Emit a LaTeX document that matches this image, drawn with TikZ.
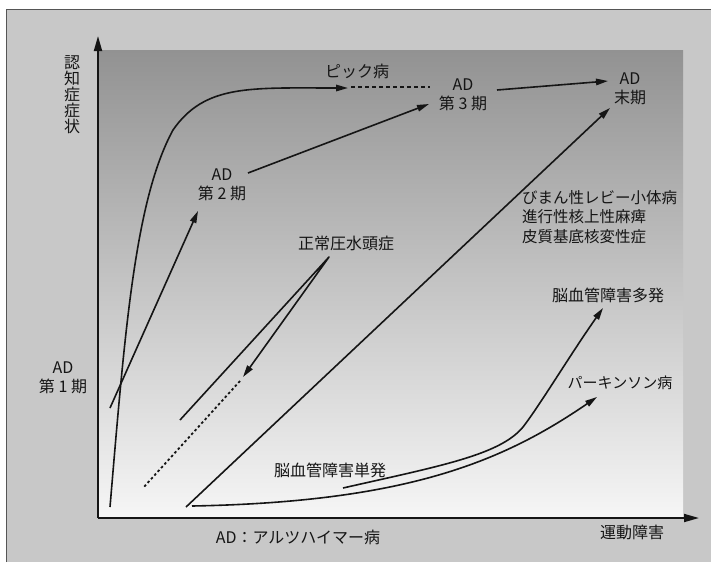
\documentclass[tikz,border=0pt]{standalone}
\usepackage{fontspec}
\setmainfont{Noto Sans CJK JP}
\usetikzlibrary{arrows.meta}
\definecolor{outerbg}{HTML}{C8C8C8}
\definecolor{framecol}{HTML}{555555}
\definecolor{ink}{HTML}{151515}
\definecolor{shtop}{HTML}{929292}
\definecolor{shmid}{HTML}{BBBBBB}
\definecolor{shbot}{HTML}{F6F6F6}
\tikzset{
  lbl/.style={inner sep=0pt, text=ink, font=\fontsize{16}{19}\selectfont, align=center},
  conn/.style={draw=ink, line width=1.6pt, line join=round, -{Triangle[length=12pt,width=6.5pt]}},
  plain/.style={draw=ink, line width=1.6pt, line join=round},
  axis/.style={draw=ink, line width=1.8pt, -{Triangle[length=15pt,width=8pt]}},
  dashedline/.style={draw=ink, line width=1.4pt, dash pattern=on 4pt off 3pt},
  dottedline/.style={draw=ink, line width=1.8pt, dash pattern=on 2.5pt off 2.5pt}
}
\begin{document}
\begin{tikzpicture}[x=1pt,y=-1pt]
\useasboundingbox (0,0) rectangle (711,562);
\fill[white] (0,0) rectangle (711,562);
\fill[outerbg] (6,9) rectangle (711,562);
\draw[framecol, line width=1pt] (6,562) -- (6,9) -- (711,9);
\shade[top color=shtop, middle color=shmid, bottom color=shbot] (98,50) rectangle (683,518);

% axes
\coordinate (O) at (98,518);
\coordinate (ytip) at (98,36);
\coordinate (xtip) at (699,518);
\draw[axis] (O) -- (ytip);
\draw[axis] (O) -- (xtip);

% labels
\node[lbl, font=\fontsize{16}{16}\selectfont] (ylab) at (72,95) {認\\知\\症\\症\\状};
\node[lbl] (ad1) at (63,378) {AD\\第 1 期};
\node[lbl] (xlab) at (632,532) {運動障害};
\node[lbl] (note) at (298,537) {AD：アルツハイマー病};
\node[lbl] (pick) at (357,71) {ピック病};
\node[lbl] (ad2) at (222,185) {AD\\第 2 期};
\node[lbl] (ad3) at (463,95) {AD\\第 3 期};
\node[lbl] (adend) at (630,89) {AD\\末期};
\node[lbl] (nph) at (346,243) {正常圧水頭症};
\node[lbl, align=left, anchor=west, font=\fontsize{15.5}{19.5}\selectfont] (dlb) at (522,217) {びまん性レビー小体病\\進行性核上性麻痺\\皮質基底核変性症};
\node[lbl] (vm) at (608,295) {脳血管障害多発};
\node[lbl, font=\fontsize{15}{18}\selectfont] (pd) at (620,383) {パーキンソン病};
\node[lbl] (vs) at (330,470) {脳血管障害単発};

% Pick curve
\coordinate (p0) at (110,507);
\coordinate (p1) at (173,130);
\coordinate (p2) at (348,88);
\coordinate (p3) at (351,87);
\coordinate (p4) at (430,87);
\draw[conn] (p0) .. controls (125,330) and (135,200) .. (p1) .. controls (205,84) and (250,88) .. (p2);
\draw[dashedline] (p3) -- (p4);

% AD progression
\coordinate (a0) at (110,408);
\coordinate (a1) at (198,211);
\coordinate (a2) at (248,173);
\coordinate (a3) at (429,104);
\coordinate (a4) at (497,90);
\coordinate (a5) at (608,81);
\draw[conn] (a0) -- (a1);
\draw[conn] (a2) -- (a3);
\draw[conn] (a4) -- (a5);

% long line to AD end
\coordinate (l0) at (186,507);
\coordinate (l1) at (610,108);
\draw[conn] (l0) -- (l1);

% NPH
\coordinate (n0) at (180,420);
\coordinate (n1) at (329,257);
\coordinate (n2) at (243,377);
\coordinate (n3) at (240,381);
\coordinate (n4) at (143,488);
\draw[conn] (n0) -- (n1) -- (n2);
\draw[dottedline] (n3) -- (n4);

% vascular / parkinson curves
\coordinate (v0) at (192,506);
\coordinate (v1) at (597,397);
\draw[conn] (v0) .. controls (410,502) and (505,460) .. (v1);
\coordinate (u0) at (343,488);
\coordinate (u1) at (523,427);
\coordinate (u2) at (603,308);
\draw[conn] (u0) .. controls (440,466) and (500,455) .. (u1) .. controls (540,405) and (570,355) .. (u2);
\end{tikzpicture}
\end{document}
